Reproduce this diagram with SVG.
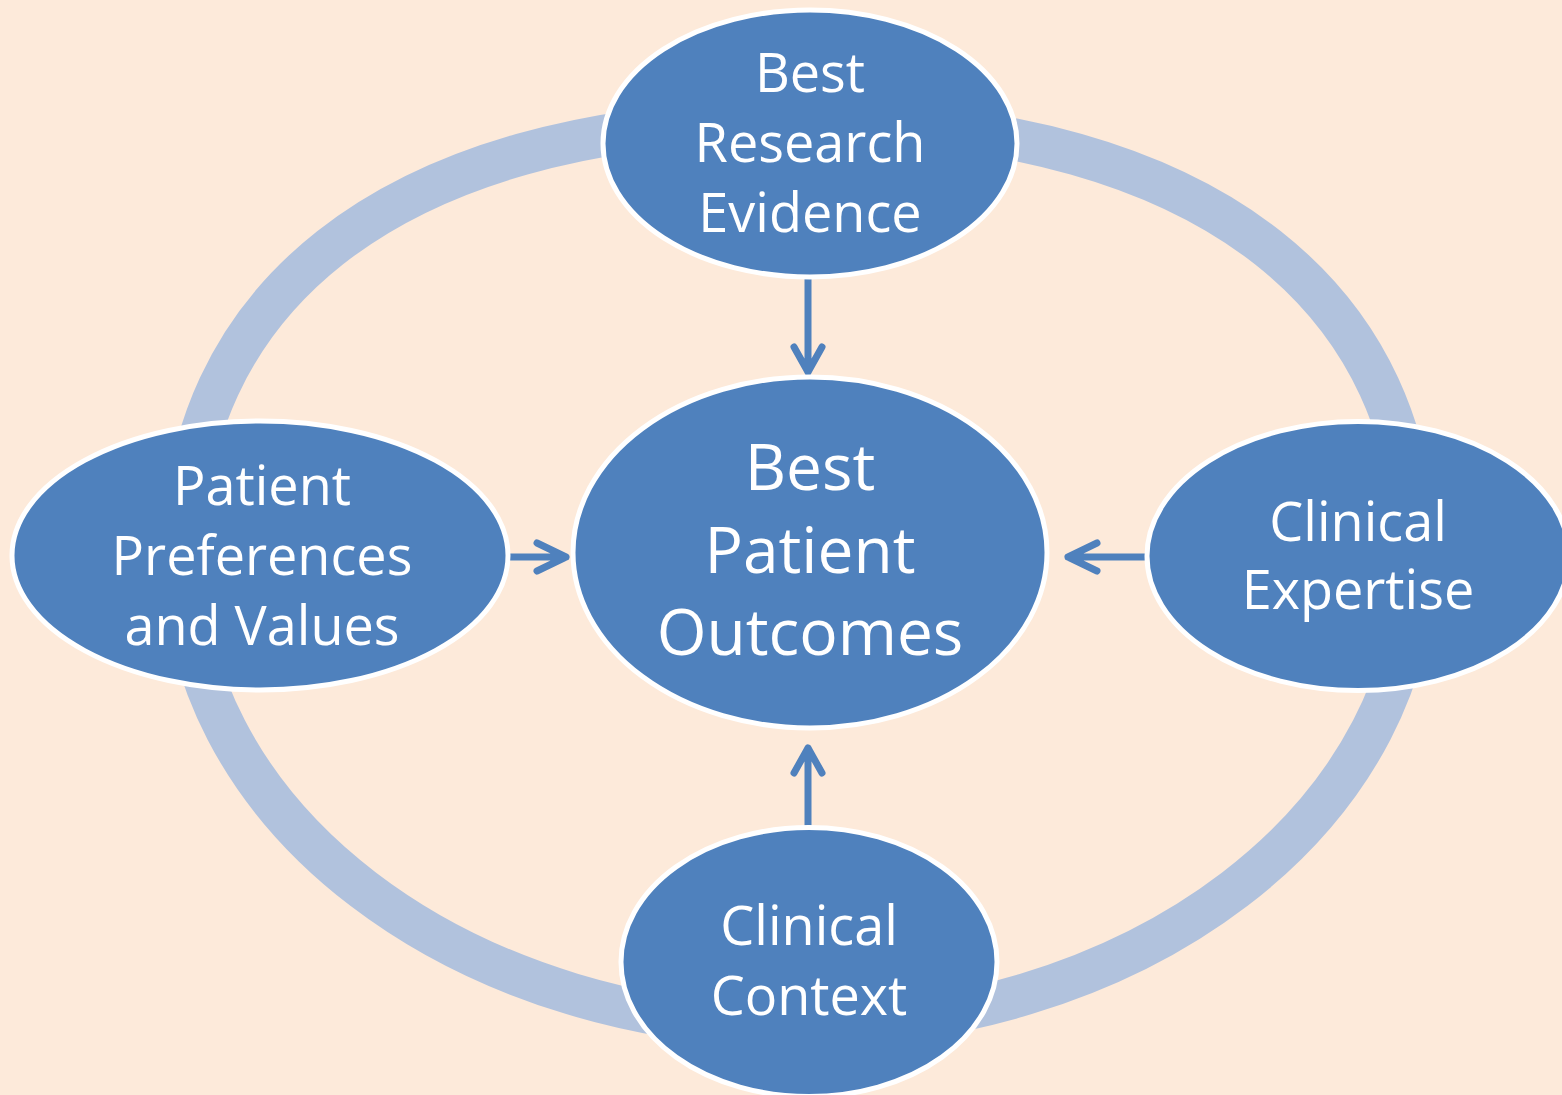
<svg xmlns="http://www.w3.org/2000/svg" width="1562" height="1095" viewBox="0 0 1562 1095">
  <defs>
    <style>
      .node { fill: #4F81BD; stroke: #FFFFFF; stroke-width: 5; }
      .label { fill: #FFFFFF; font-family: "Open Sans", "Noto Sans", "Liberation Sans", sans-serif; text-anchor: middle; }
      .outer { font-size: 54px; }
      .core { font-size: 64px; }
      .link { fill: none; stroke: #4F81BD; stroke-width: 7; stroke-linecap: round; stroke-linejoin: round; }
      .ring { fill: none; stroke: #B1C2DD; stroke-width: 42; }
    </style>
  </defs>

  <rect width="1562" height="1095" fill="#FDEADA"/>

  <!-- cycle band linking the four contributing factors -->
  <path class="ring" d="M183,557 C183,315 370,120 799,120 C1228,120 1415,315 1415,557 A616,470 0 0 1 183,557 Z"/>

  <!-- arrows into the centre -->
  <g id="connectors">
    <path class="link" d="M808,279 L808,372 M794,347 L808,372 L822,347"/>
    <path class="link" d="M507,557 L566,557 M537,543 L566,557 L537,571"/>
    <path class="link" d="M1147,557 L1068,557 M1097,543 L1068,557 L1097,571"/>
    <path class="link" d="M808,828 L808,748 M794,773 L808,748 L822,773"/>
  </g>

  <g id="node-research">
    <ellipse class="node" cx="810" cy="143.5" rx="207" ry="133.5"/>
    <text class="label outer" x="810" y="92">Best</text>
    <text class="label outer" x="810" y="162">Research</text>
    <text class="label outer" x="810" y="232">Evidence</text>
  </g>

  <g id="node-patient">
    <ellipse class="node" cx="260" cy="555.5" rx="248" ry="134.5"/>
    <text class="label outer" x="262" y="505">Patient</text>
    <text class="label outer" x="262" y="575">Preferences</text>
    <text class="label outer" x="262" y="645">and Values</text>
  </g>

  <g id="node-expertise">
    <ellipse class="node" cx="1358" cy="556" rx="211" ry="134.5"/>
    <text class="label outer" x="1358" y="541">Clinical</text>
    <text class="label outer" x="1358" y="609">Expertise</text>
  </g>

  <g id="node-context">
    <ellipse class="node" cx="809" cy="962" rx="188" ry="134.5"/>
    <text class="label outer" x="809" y="945">Clinical</text>
    <text class="label outer" x="809" y="1015">Context</text>
  </g>

  <g id="node-outcomes">
    <ellipse class="node" cx="810" cy="552.5" rx="237" ry="175.5"/>
    <text class="label core" x="810" y="490">Best</text>
    <text class="label core" x="810" y="573">Patient</text>
    <text class="label core" x="810" y="655">Outcomes</text>
  </g>
</svg>
